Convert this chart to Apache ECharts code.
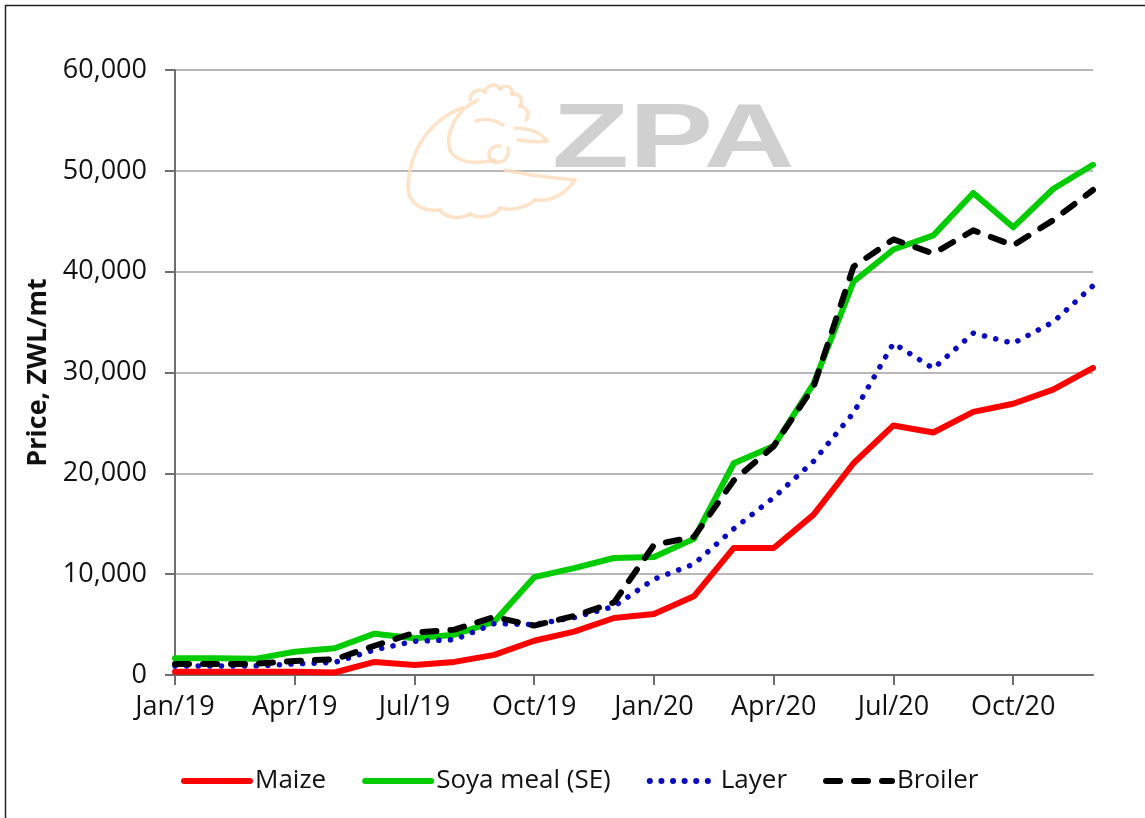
<!DOCTYPE html>
<html>
<head>
<meta charset="utf-8">
<script src="https://cdn.jsdelivr.net/npm/echarts@6/dist/echarts.min.js"></script>
<style>
  html, body { margin: 0; padding: 0; background: #fff; }
  #chart { width: 1145px; height: 818px; }
</style>
</head>
<body>
<div id="chart"></div>
<script>
// months Jan/19 .. Dec/20
const months = [
  'Jan/19', 'Feb/19', 'Mar/19', 'Apr/19', 'May/19', 'Jun/19',
  'Jul/19', 'Aug/19', 'Sep/19', 'Oct/19', 'Nov/19', 'Dec/19',
  'Jan/20', 'Feb/20', 'Mar/20', 'Apr/20', 'May/20', 'Jun/20',
  'Jul/20', 'Aug/20', 'Sep/20', 'Oct/20', 'Nov/20', 'Dec/20'
];

// prices, ZWL/mt
const maize = [330, 330, 330, 330, 250, 1300, 1000, 1300, 2000, 3400, 4300, 5650,
  6050, 7800, 12600, 12600, 15900, 21000, 24750, 24050, 26100, 26900, 28300, 30450];
const soya = [1650, 1650, 1600, 2300, 2650, 4100, 3650, 4000, 5300, 9700, 10600, 11600,
  11700, 13500, 21000, 22700, 28900, 39000, 42200, 43600, 47800, 44400, 48200, 50600];
const layer = [900, 900, 900, 1100, 1250, 2500, 3350, 3500, 5100, 5000, 5700, 6800,
  9500, 11000, 14500, 17600, 21200, 26000, 32900, 30400, 33900, 32900, 35000, 38600];
const broiler = [1100, 1100, 1100, 1400, 1550, 2900, 4200, 4500, 5750, 4900, 5850, 7200,
  12900, 13700, 19300, 22700, 28600, 40500, 43200, 41800, 44100, 42600, 45100, 48100];

const yTicks = { min: 0, max: 60000, interval: 10000 };

const font = '"Open Sans", "Noto Sans", sans-serif';

// faint chicken outline of the watermark, as cubic segments [x1,y1, c1x,c1y, c2x,c2y, x2,y2]
const chickenCurves = [
  [462,108, 430,120, 410,150, 408,185], [408,185, 407,205, 425,212, 440,210],
  [440,210, 445,218, 460,220, 470,214], [470,214, 480,220, 495,216, 500,208],
  [500,208, 515,212, 530,205, 535,200], [535,200, 550,202, 565,195, 575,180],
  [470,100, 470,90, 482,88, 485,92], [485,92, 487,84, 497,83, 500,89],
  [500,89, 505,84, 513,86, 512,94], [512,94, 520,93, 524,100, 520,106],
  [520,106, 528,108, 530,115, 526,120],
  [478,100, 455,110, 445,135, 450,150], [450,150, 455,162, 475,165, 495,160],
  [476,121, 485,118, 495,120, 503,125],
  [515,128, 528,128, 540,132, 547,141], [547,141, 538,143, 528,141, 518,140],
  [500,146, 488,145, 485,160, 495,162], [495,162, 505,164, 510,155, 508,148],
  [505,170, 530,176, 555,178, 575,180]
];

const chart = echarts.init(document.getElementById('chart'));

function lineSeries(name, data, color, width, type) {
  return {
    name: name,
    type: 'line',
    data: data,
    symbol: 'none',
    smooth: false,
    lineStyle: { color: color, width: width, type: type, cap: 'round', join: 'round' },
    itemStyle: { color: color }
  };
}

const graphics = [
  {
    type: 'rect',
    shape: { x: 5.5, y: 5.5, width: 1160, height: 840 },
    style: { fill: 'none', stroke: '#222', lineWidth: 1.5 },
    silent: true, z: 0
  },
  {
    type: 'text',
    x: 552, y: 142,
    scaleX: 1.4,
    style: {
      text: 'ZPA',
      font: 'bold 90px "Liberation Sans", sans-serif',
      fill: '#d0d0d0',
      stroke: '#fff',
      lineWidth: 2,
      verticalAlign: 'middle',
      shadowColor: 'rgba(0,0,0,0.12)',
      shadowBlur: 4,
      shadowOffsetX: 3,
      shadowOffsetY: 3
    },
    silent: true, z: 1
  }
];
chickenCurves.forEach(function (c) {
  graphics.push({
    type: 'bezierCurve',
    shape: { x1: c[0], y1: c[1], cpx1: c[2], cpy1: c[3], cpx2: c[4], cpy2: c[5], x2: c[6], y2: c[7] },
    style: { fill: 'none', stroke: '#fbdcbc', lineWidth: 3.5, lineCap: 'round', opacity: 0.8 },
    silent: true, z: 1
  });
});

const option = {
  backgroundColor: '#fff',
  animation: false,
  grid: { left: 175, right: 52, top: 70, bottom: 143 },
  graphic: graphics,
  legend: {
    left: 176,
    top: 763,
    itemWidth: 66,
    itemHeight: 14,
    itemGap: 36,
    itemStyle: { opacity: 0 },
    lineStyle: { width: 6 },
    textStyle: { fontFamily: font, fontSize: 26, color: '#111' },
    data: ['Maize', 'Soya meal (SE)', 'Layer', 'Broiler']
  },
  xAxis: {
    type: 'category',
    data: months,
    boundaryGap: false,
    axisLine: { lineStyle: { color: '#6e6e6e', width: 2 } },
    axisTick: { show: true, length: 10, interval: 2, lineStyle: { color: '#6e6e6e', width: 2 } },
    axisLabel: { interval: 2, margin: 19, fontFamily: font, fontSize: 27, color: '#111' },
    splitLine: { show: false }
  },
  yAxis: {
    type: 'value',
    min: yTicks.min,
    max: yTicks.max,
    interval: yTicks.interval,
    name: 'Price, ZWL/mt',
    nameLocation: 'middle',
    nameGap: 122,
    nameTextStyle: { fontFamily: font, fontSize: 27, fontWeight: 'bold', color: '#111' },
    axisLine: { show: true, lineStyle: { color: '#6e6e6e', width: 2 } },
    axisTick: { show: true, length: 10, lineStyle: { color: '#6e6e6e', width: 2 } },
    axisLabel: {
      margin: 28, fontFamily: font, fontSize: 27, color: '#111',
      formatter: function (v) { return v.toLocaleString('en-US'); }
    },
    splitLine: { show: true, lineStyle: { color: '#a0a0a0', width: 1.5 } }
  },
  series: [
    lineSeries('Maize', maize, '#ff0000', 6, 'solid'),
    lineSeries('Soya meal (SE)', soya, '#00cc00', 6, 'solid'),
    lineSeries('Layer', layer, '#0a0ac0', 5.5, [0.1, 11.5]),
    lineSeries('Broiler', broiler, '#000000', 6, [14, 14])
  ]
};

chart.setOption(option);
</script>
</body>
</html>
